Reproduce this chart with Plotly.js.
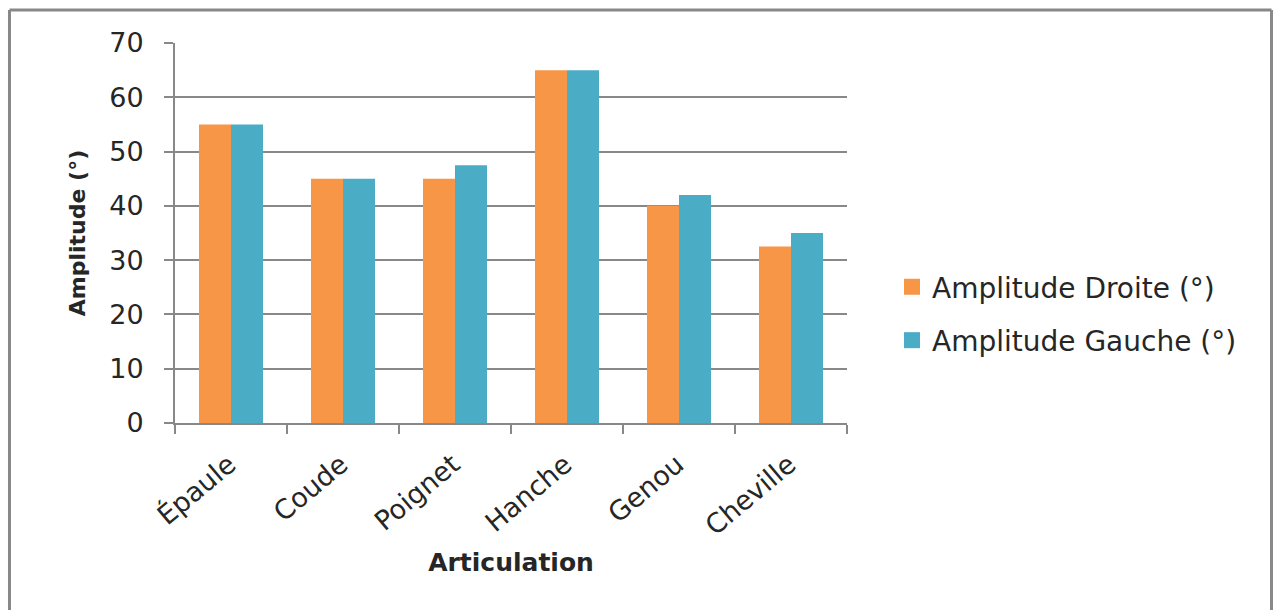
<!DOCTYPE html>
<html>
<head>
<meta charset="utf-8">
<script src="https://cdn.plot.ly/plotly-3.0.1.min.js"></script>
<style>
  html, body { margin: 0; padding: 0; background: #ffffff; }
  #chart { width: 1277px; height: 610px; }
</style>
</head>
<body>
<div id="chart"></div>
<script>
// Joint range of motion, right vs left side (degrees)
const articulations = ["Épaule", "Coude", "Poignet", "Hanche", "Genou", "Cheville"];
const amplitudeDroite = [55, 45, 45, 65, 40, 32.5];
const amplitudeGauche = [55, 45, 47.5, 65, 42, 35];
const seriesNames = ["Amplitude Droite (°)", "Amplitude Gauche (°)"];
const yTicks = [0, 10, 20, 30, 40, 50, 60, 70];

const orange = "#F79646";
const blue = "#4BACC6";
const gridGrey = "#888888";
const textColor = "#262626";
const font = "DejaVu Sans, Verdana, sans-serif";

const traces = [
  {
    type: "bar",
    name: seriesNames[0],
    x: articulations,
    y: amplitudeDroite,
    marker: { color: orange },
    showlegend: false
  },
  {
    type: "bar",
    name: seriesNames[1],
    x: articulations,
    y: amplitudeGauche,
    marker: { color: blue },
    showlegend: false
  },
  // legend keys drawn as larger squares
  {
    type: "scatter", mode: "markers", name: seriesNames[0],
    x: [null], y: [null], legendgroup: "d",
    marker: { symbol: "square", size: 18, color: orange }
  },
  {
    type: "scatter", mode: "markers", name: seriesNames[1],
    x: [null], y: [null], legendgroup: "g",
    marker: { symbol: "square", size: 18, color: blue }
  }
];

// outer frame: left, top and right edges of the chart box
const frameLine = { color: gridGrey, width: 3 };
const fx0 = -0.2463, fx1 = 1.6317, fyTop = 1.0868, fyBot = -0.52;

const layout = {
  width: 1277,
  height: 610,
  autosize: false,
  paper_bgcolor: "#ffffff",
  plot_bgcolor: "#ffffff",
  margin: { l: 175, r: 430, t: 43, b: 187, pad: 0 },
  barmode: "group",
  bargap: 0.4286,
  bargroupgap: 0,
  font: { family: font, color: textColor, size: 22 },
  xaxis: {
    type: "category",
    tickangle: -40,
    tickfont: { family: font, size: 27, color: textColor },
    ticks: "outside",
    tickson: "boundaries",
    ticklen: 9,
    tickwidth: 2,
    tickcolor: gridGrey,
    ticklabelstandoff: 13,
    ticklabelshift: -2,
    showline: true,
    linecolor: gridGrey,
    linewidth: 2,
    showgrid: false,
    zeroline: false,
    automargin: false,
    title: {
      text: "<b>Articulation</b>",
      font: { family: font, size: 25, color: textColor },
      standoff: 13
    }
  },
  yaxis: {
    range: [0, 70],
    tickvals: yTicks,
    ticktext: yTicks.map(String),
    tickfont: { family: font, size: 27, color: textColor },
    ticks: "outside",
    ticklen: 9,
    tickwidth: 2,
    tickcolor: gridGrey,
    ticklabelstandoff: 15,
    showline: true,
    linecolor: gridGrey,
    linewidth: 2,
    showgrid: true,
    gridcolor: gridGrey,
    gridwidth: 2,
    zeroline: false,
    automargin: false,
    title: {
      text: "<b>Amplitude (°)</b>",
      font: { family: font, size: 22, color: textColor },
      standoff: 18
    }
  },
  legend: {
    x: 1.067,
    xanchor: "left",
    y: 0.288,
    yanchor: "middle",
    font: { family: font, size: 28, color: textColor },
    tracegroupgap: 14,
    bgcolor: "rgba(0,0,0,0)",
    borderwidth: 0
  },
  showlegend: true,
  shapes: [
    { type: "line", xref: "paper", yref: "paper", x0: fx0, x1: fx0, y0: fyBot, y1: fyTop, line: frameLine },
    { type: "line", xref: "paper", yref: "paper", x0: fx0, x1: fx1, y0: fyTop, y1: fyTop, line: frameLine },
    { type: "line", xref: "paper", yref: "paper", x0: fx1, x1: fx1, y0: fyBot, y1: fyTop, line: frameLine }
  ]
};

Plotly.newPlot("chart", traces, layout, { displayModeBar: false, staticPlot: true });
</script>
</body>
</html>
